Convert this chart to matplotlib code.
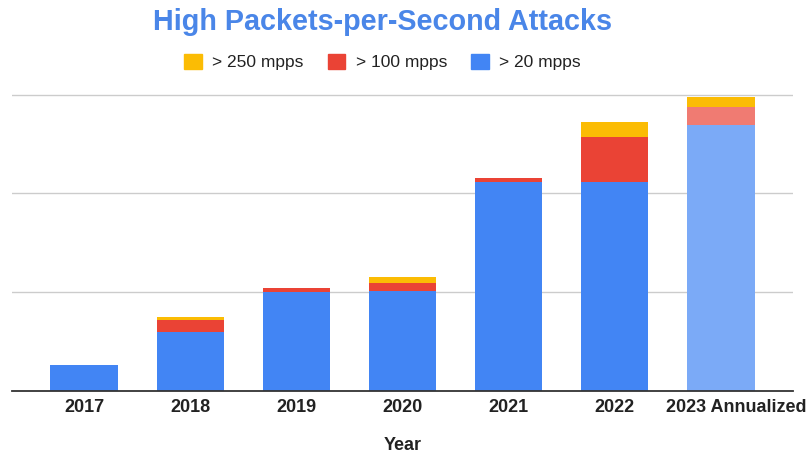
import matplotlib
matplotlib.use('Agg')
import matplotlib.pyplot as plt
import matplotlib.transforms as mtransforms
from matplotlib.patches import Patch
import numpy as np

plt.rcParams['font.family'] = ['Liberation Sans', 'DejaVu Sans']

# data, in gridline units (the chart shows no y values)
years = ['2017', '2018', '2019', '2020', '2021', '2022', '2023 Annualized']
mpps_20 = [0.26, 0.60, 1.00, 1.01, 2.12, 2.12, 2.69]
mpps_100 = [0.0, 0.12, 0.04, 0.085, 0.04, 0.45, 0.19]
mpps_250 = [0.0, 0.03, 0.0, 0.06, 0.0, 0.15, 0.10]

BLUE = '#4285F4'
RED = '#EA4335'
YELLOW = '#FBBC04'

fig = plt.figure(figsize=(8.11, 4.54), dpi=100)
ymax = 3.01
ax = fig.add_axes([12 / 811, 63 / 454, 781 / 811, 296.3 * ymax / 3 / 454])

x = np.arange(len(years))
b20 = np.array(mpps_20)
b100 = np.array(mpps_100)
b250 = np.array(mpps_250)

# last bar (annualized estimate) drawn lighter
blue_cols = [BLUE] * (len(years) - 1) + ['#7BAAF7']
red_cols = [RED] * (len(years) - 1) + ['#F07B72']
yel_cols = [YELLOW] * len(years)

w = 0.635
ax.bar(x, b20, w, color=blue_cols, zorder=3)
ax.bar(x, b100, w, bottom=b20, color=red_cols, zorder=3)
ax.bar(x, b250, w, bottom=b20 + b100, color=yel_cols, zorder=3)

ax.set_xlim(-0.68, len(years) - 1 + 0.68)
ax.set_ylim(0, ymax)
ax.set_yticks([1, 2, 3])
ax.yaxis.grid(True, color='#cccccc', linewidth=1.0, zorder=0)
ax.tick_params(axis='y', left=False, labelleft=False)
ax.tick_params(axis='x', length=0, pad=6)
ax.set_xticks(x)
ax.set_xticklabels(years, fontsize=13, fontweight='bold', color='#222222')
# the long last label sits pushed to the right edge
lab = ax.get_xticklabels()[-1]
lab.set_transform(lab.get_transform() + mtransforms.ScaledTranslation(15 / 100, 0, fig.dpi_scale_trans))

for s in ['top', 'right', 'left']:
    ax.spines[s].set_visible(False)
ax.spines['bottom'].set_color('#333333')
ax.spines['bottom'].set_linewidth(1.3)
ax.spines['bottom'].set_zorder(4)

ax.set_xlabel('Year', fontsize=13, fontweight='bold', color='#222222', labelpad=15)

fig.text(382.5 / 811, 1 - 22.5 / 454, 'High Packets-per-Second Attacks', ha='center', va='center',
         fontsize=20.7, fontweight='bold', color='#4A86E8')

handles = [Patch(color=YELLOW), Patch(color=RED), Patch(color=BLUE)]
labels = ['> 250 mpps', '> 100 mpps', '> 20 mpps']
fig.legend(handles, labels, loc='center', bbox_to_anchor=(382.5 / 811, 1 - 62 / 454), ncol=3,
           frameon=False, fontsize=12.5, handlelength=1.0, handleheight=1.0,
           handletextpad=0.6, columnspacing=1.4, labelcolor='#222222')

fig.savefig('out.png', dpi=100)
